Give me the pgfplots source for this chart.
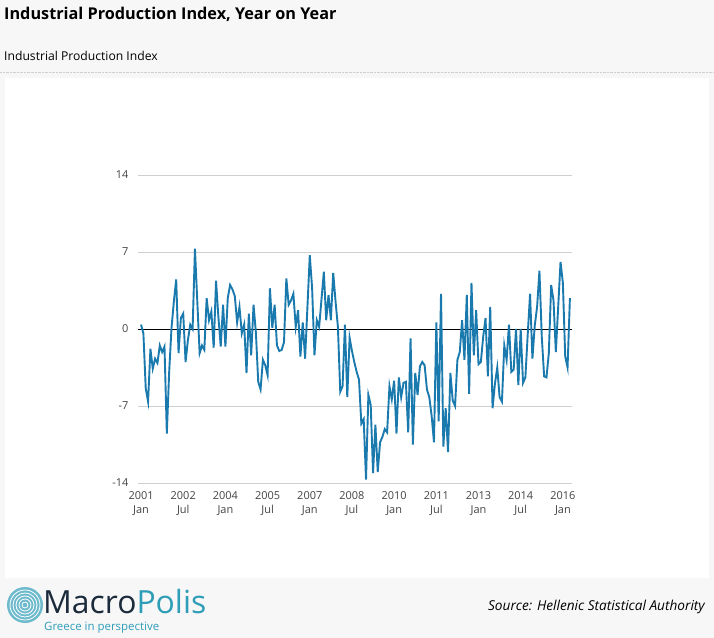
\documentclass[border=0pt]{standalone}
\usepackage{pgfplots}
\pgfplotsset{compat=1.18}
\usepackage{pgfplotstable}
\usepackage{fontspec}
\setmainfont{Open Sans}
\definecolor{lineblue}{HTML}{1A7AAE}
\definecolor{gridgrey}{HTML}{CFCFCF}
\definecolor{pagegrey}{HTML}{F7F7F7}
\definecolor{ticktext}{HTML}{444444}
\definecolor{navy}{HTML}{1C2B3C}
\definecolor{teal}{HTML}{2E9DB8}

% month index (0 = Jan 2001), year-on-year change in %
\pgfplotstableread{
m v
0 0.4
1 -0.4
2 -5.4
3 -6.6
4 -1.8
5 -3.6
6 -2.7
7 -3.1
8 -1.5
9 -2.1
10 -1.6
11 -9.5
12 -3.9
13 0.1
14 2.5
15 4.5
16 -2.2
17 1.0
18 1.4
19 -3.0
20 -1.0
21 0.4
22 0.0
23 7.3
24 2.5
25 -2.2
26 -1.5
27 -1.9
28 2.8
29 0.8
30 1.6
31 -1.7
32 4.4
33 1.1
34 -1.6
35 2.2
36 -1.6
37 2.8
38 4.0
39 3.6
40 3.0
41 0.6
42 2.0
43 -0.4
44 0.4
45 -4.0
46 1.4
47 -2.4
48 2.2
49 -0.3
50 -4.8
51 -5.5
52 -2.8
53 -3.3
54 -4.2
55 3.7
56 0.1
57 2.2
58 -1.5
59 -2.0
60 -1.9
61 -1.2
62 4.6
63 2.2
64 2.6
65 3.2
66 0.2
67 1.7
68 -2.5
69 0.6
70 -2.7
71 2.0
72 6.7
73 3.7
74 -2.4
75 0.8
76 0.2
77 2.7
78 5.2
79 0.8
80 3.1
81 0.8
82 5.1
83 2.5
84 0.2
85 -5.7
86 -5.2
87 0.4
88 -6.2
89 -0.8
90 -2.0
91 -3.0
92 -3.9
93 -4.6
94 -8.6
95 -8.2
96 -13.7
97 -6.0
98 -6.9
99 -13.1
100 -8.7
101 -13.0
102 -10.3
103 -9.8
104 -9.1
105 -9.4
106 -5.2
107 -6.4
108 -4.7
109 -9.5
110 -4.4
111 -6.2
112 -4.9
113 -4.8
114 -9.4
115 -0.85
116 -10.5
117 -4.0
118 -6.0
119 -3.4
120 -3.0
121 -3.3
122 -5.5
123 -6.2
124 -7.9
125 -10.3
126 0.6
127 -8.4
128 3.2
129 -10.7
130 -7.2
131 -11.2
132 -4.0
133 -6.5
134 -7.0
135 -2.8
136 -2.1
137 0.8
138 -2.8
139 3.1
140 -5.9
141 4.2
142 -2.4
143 1.7
144 -3.2
145 -3.0
146 -0.7
147 1.0
148 -4.3
149 2.0
150 -7.2
151 -5.0
152 -3.5
153 -6.2
154 -6.6
155 -1.5
156 -2.8
157 0.4
158 -3.9
159 -3.7
160 0.0
161 -5.1
162 0.0
163 -4.9
164 -4.4
165 -0.5
166 3.2
167 -2.7
168 0.3
169 2.0
170 5.3
171 -0.7
172 -4.3
173 -4.4
174 -2.2
175 4.0
176 2.6
177 -2.1
178 2.0
179 6.1
180 4.2
181 -2.5
182 -3.5
183 2.8
}\ipi

\begin{document}
\begin{tikzpicture}[x=1bp,y=1bp]
\path[use as bounding box] (0,0) rectangle (714,638);
\fill[pagegrey] (0,0) rectangle (714,638);
\fill[white] (5,60) rectangle (709,560);
\draw[gridgrey, densely dotted] (0,566) -- (714,566);

% titles
\node[anchor=base west, inner sep=0pt, font=\fontsize{16.3}{19}\selectfont\bfseries] at (4,618) {Industrial Production Index, Year on Year};
\node[anchor=base west, inner sep=0pt, font=\fontsize{12.2}{14}\selectfont] at (4,577) {Industrial Production Index};

\begin{axis}[
    at={(138bp,155bp)}, anchor=south west,
    scale only axis,
    width=434bp, height=308bp,
    xmin=-1.3, xmax=183.9,
    ymin=-14, ymax=14,
    axis line style={draw=none},
    major tick length=0pt,
    ytick={-14,-7,7,14},
    extra y ticks={0},
    extra y tick style={grid style={black, line width=0.8bp}},
    ymajorgrids,
    grid style={gridgrey, line width=0.8bp},
    xtick={0,18,36,54,72,90,108,126,144,162,180},
    xticklabels={{2001\\Jan},{2002\\Jul},{2004\\Jan},{2005\\Jul},{2007\\Jan},{2008\\Jul},{2010\\Jan},{2011\\Jul},{2013\\Jan},{2014\\Jul},{2016\\Jan}},
    xticklabel style={align=center, font=\fontsize{11}{14.5}\selectfont, text=ticktext, yshift=-5bp},
    yticklabel style={font=\fontsize{11}{13}\selectfont, text=ticktext, xshift=-6bp},
    /pgf/number format/assume math mode=true,
    clip=false,
]
\addplot[lineblue, line width=1.9bp, mark=none] table[x=m, y=v] {\ipi};
\end{axis}

% footer
\fill[teal!70] (25,33) circle (18);
\foreach \r in {15,12,9,6,3} \draw[white, line width=0.8bp] (25,33) circle (\r);
\node[anchor=base west, inner sep=0pt, font=\fontsize{32}{34}\selectfont] at (43,24) {\textcolor{navy}{Macro}\textcolor{teal}{Polis}};
\node[anchor=base west, inner sep=0pt, font=\fontsize{11.5}{13}\selectfont, text=teal] at (44,7) {Greece in perspective};
\node[anchor=base east, inner sep=0pt, font=\fontsize{13.7}{16}\selectfont\itshape] at (705,27) {Source: Hellenic Statistical Authority};
\end{tikzpicture}
\end{document}
